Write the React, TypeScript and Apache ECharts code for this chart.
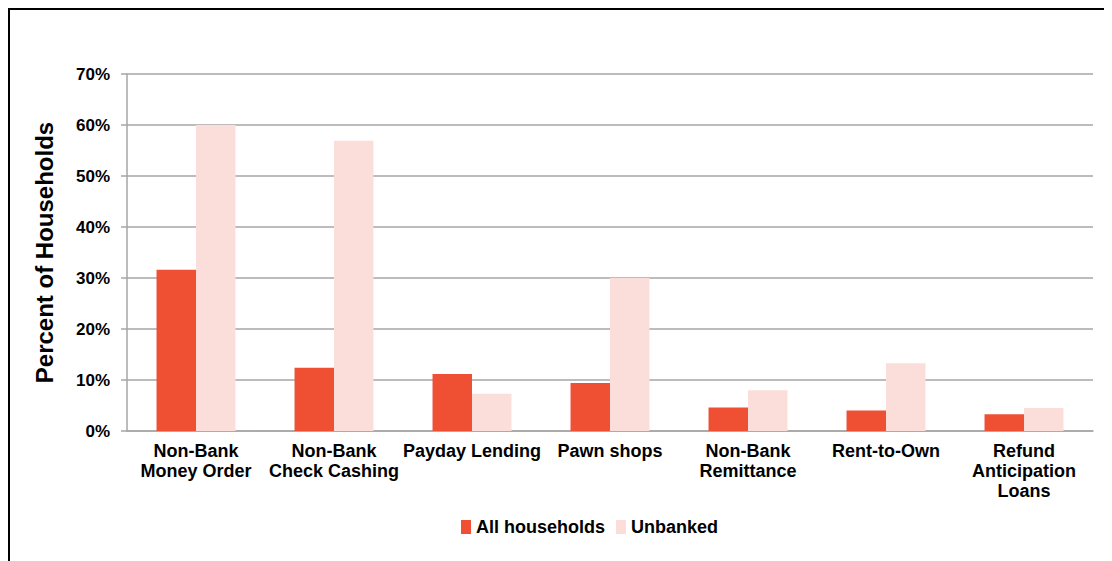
import React, { useEffect, useRef } from "react";
import * as echarts from "echarts";

const categories = [
  "Non-Bank\nMoney Order",
  "Non-Bank\nCheck Cashing",
  "Payday Lending",
  "Pawn shops",
  "Non-Bank\nRemittance",
  "Rent-to-Own",
  "Refund\nAnticipation\nLoans",
];
const allHouseholds = [31.6, 12.4, 11.2, 9.4, 4.6, 4.0, 3.3];
const unbanked = [60.0, 56.9, 7.3, 30.0, 8.0, 13.3, 4.5];
const seriesNames = ["All households", "Unbanked"];

const FONT = "'Liberation Sans', Arial, sans-serif";

export default function App() {
  const ref = useRef<HTMLDivElement>(null);
  useEffect(() => {
    if (!ref.current) return;
    const chart = echarts.init(ref.current, undefined, { renderer: "svg" });
    chart.setOption({
      animation: false,
      textStyle: { fontFamily: FONT },
      grid: { left: 117, right: 19, top: 64, bottom: 130, containLabel: false },
      legend: {
        bottom: 20,
        left: 446,
        itemWidth: 10,
        itemHeight: 14,
        itemGap: 11,
        icon: "rect",
        textStyle: { fontFamily: FONT, fontWeight: "bold", fontSize: 18, color: "#000" },
        data: seriesNames,
      },
      xAxis: {
        type: "category",
        data: categories,
        axisLine: { lineStyle: { color: "#A6A6A6", width: 1.5 } },
        axisTick: { show: false },
        axisLabel: {
          interval: 0,
          margin: 10,
          fontFamily: FONT,
          fontWeight: "bold",
          fontSize: 18,
          lineHeight: 20,
          color: "#000",
        },
      },
      yAxis: {
        type: "value",
        min: 0,
        max: 70,
        interval: 10,
        name: "Percent of Households",
        nameLocation: "middle",
        nameGap: 71,
        nameTextStyle: { fontFamily: FONT, fontWeight: "bold", fontSize: 24, color: "#000" },
        axisLine: { show: true, lineStyle: { color: "#A6A6A6", width: 1.5 } },
        axisTick: { show: true, length: 6, lineStyle: { color: "#A6A6A6", width: 1.5 } },
        splitLine: { lineStyle: { color: "#A6A6A6", width: 1.5 } },
        axisLabel: {
          formatter: "{value}%",
          margin: 17,
          fontFamily: FONT,
          fontWeight: "bold",
          fontSize: 17,
          color: "#000",
        },
      },
      series: [
        {
          name: seriesNames[0],
          type: "bar",
          data: allHouseholds,
          barWidth: "28.6%",
          barGap: "0%",
          itemStyle: { color: "#EF5033" },
        },
        {
          name: seriesNames[1],
          type: "bar",
          data: unbanked,
          barWidth: "28.6%",
          barGap: "0%",
          itemStyle: { color: "#FBDDD9" },
        },
      ],
    });
    return () => chart.dispose();
  }, []);
  return (
    <div style={{ borderTop: "2px solid #000", borderLeft: "2px solid #000", width: 1102, height: 560 }}>
      <div ref={ref} style={{ width: 1102, height: 551 }} />
    </div>
  );
}
